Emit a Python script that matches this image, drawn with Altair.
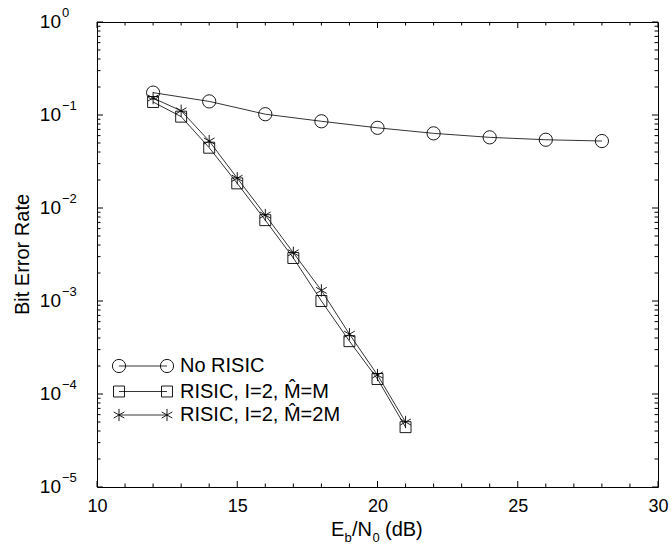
import altair as alt
import pandas as pd

# ---------------- data ----------------
x_no = [12, 14, 16, 18, 20, 22, 24, 26, 28]
ber_no = [0.174, 0.140, 0.102, 0.0856, 0.0728, 0.0635, 0.0575, 0.0542, 0.0525]

x_risic = [12, 13, 14, 15, 16, 17, 18, 19, 20, 21]
ber_m = [0.138, 0.096, 0.0445, 0.0184, 0.0074, 0.0029, 0.00100, 0.00037, 0.000145, 4.4e-5]
ber_2m = [0.152, 0.111, 0.0525, 0.0209, 0.0084, 0.0033, 0.0013, 0.00044, 0.00016, 5.0e-5]

series_labels = ["No RISIC", "RISIC, I=2, M\u0302=M", "RISIC, I=2, M\u0302=2M"]

x_major = [10, 15, 20, 25, 30]
x_minor = [v for v in range(10, 31) if v not in x_major]
y_major = [1, 0.1, 0.01, 0.001, 0.0001, 0.00001]
y_exp = ["0", "\u22121", "\u22122", "\u22123", "\u22124", "\u22125"]
y_minor = [m * 10.0 ** k for k in range(-5, 0) for m in range(2, 10)]

# ---------------- layout constants ----------------
W, H = 561, 465
FONT = "Liberation Sans"
STAR = "M0,-1L0,1M-0.87,-0.5L0.87,0.5M-0.87,0.5L0.87,-0.5"
shapes = ["circle", "square", STAR]
sizes = [175, 120, 150]

xs = alt.Scale(domain=[10, 30], nice=False, zero=False)
ys = alt.Scale(type="log", domain=[1e-5, 1], nice=False)
xaxis = alt.Axis(values=x_major, ticks=False, domain=False, grid=False, title=None,
                 labelFont=FONT, labelFontSize=18, labelColor="black", labelPadding=10,
                 labelFlush=False)

def X():
    return alt.X("x:Q", scale=xs, axis=xaxis)

def Y():
    return alt.Y("ber:Q", scale=ys, axis=None)

frames = [
    pd.DataFrame({"x": x_no, "ber": ber_no, "series": series_labels[0]}),
    pd.DataFrame({"x": x_risic, "ber": ber_m, "series": series_labels[1]}),
    pd.DataFrame({"x": x_risic, "ber": ber_2m, "series": series_labels[2]}),
]

layers = []
for i, f in enumerate(frames):
    layers.append(alt.Chart(f).mark_line(color="black", strokeWidth=0.8).encode(x=X(), y=Y()))
    layers.append(alt.Chart(f).mark_point(shape=shapes[i], size=sizes[i], filled=False,
                                          color="black", strokeWidth=0.9, opacity=1)
                  .encode(x=X(), y=Y()))

# ---- inward ticks on all four sides ----
xmaj = pd.DataFrame({"x": x_major})
xmin = pd.DataFrame({"x": x_minor})
ymaj = pd.DataFrame({"ber": y_major, "exp": y_exp})
ymin = pd.DataFrame({"ber": y_minor})
for df, L in [(xmaj, 6), (xmin, 3.5)]:
    layers.append(alt.Chart(df).mark_rule(color="black", strokeWidth=1)
                  .encode(x=X(), y=alt.value(H), y2=alt.value(H - L)))
    layers.append(alt.Chart(df).mark_rule(color="black", strokeWidth=1)
                  .encode(x=X(), y=alt.value(0), y2=alt.value(L)))
for df, L in [(ymaj, 6), (ymin, 3.5)]:
    layers.append(alt.Chart(df).mark_rule(color="black", strokeWidth=1)
                  .encode(y=Y(), x=alt.value(0), x2=alt.value(L)))
    layers.append(alt.Chart(df).mark_rule(color="black", strokeWidth=1)
                  .encode(y=Y(), x=alt.value(W), x2=alt.value(W - L)))

# ---- y tick labels 10^k ----
layers.append(alt.Chart(ymaj).mark_text(align="right", baseline="middle", font=FONT,
                                        fontSize=19, color="black")
              .encode(y=Y(), x=alt.value(-36), text=alt.value("10")))
layers.append(alt.Chart(ymaj).mark_text(align="left", baseline="middle", font=FONT,
                                        fontSize=13, color="black", dy=-9)
              .encode(y=Y(), x=alt.value(-35), text="exp:N"))

one = pd.DataFrame({"a": [0]})

# ---- y axis title ----
layers.append(alt.Chart(one).mark_text(angle=270, align="center", baseline="middle",
                                       font=FONT, fontSize=20, color="black")
              .encode(x=alt.value(-74), y=alt.value(H / 2), text=alt.value("Bit Error Rate")))

# ---- x axis title E_b/N_0 (dB) ----
pieces = [("E", 234, 513.5, 20), ("b", 247.5, 519.5, 13), ("/N", 255, 513.5, 20),
          ("0", 275.5, 519.5, 13), ("(dB)", 288, 513.5, 20)]
for txt, px, py, fs in pieces:
    layers.append(alt.Chart(one).mark_text(align="left", baseline="alphabetic", font=FONT,
                                           fontSize=fs, color="black")
                  .encode(x=alt.value(px), y=alt.value(py), text=alt.value(txt)))

# ---- legend ----
rows = [344, 369.5, 393]
for i, lab in enumerate(series_labels):
    yr = rows[i]
    layers.append(alt.Chart(one).mark_rule(color="black", strokeWidth=0.8)
                  .encode(x=alt.value(22), x2=alt.value(70), y=alt.value(yr)))
    for px in (22, 70):
        layers.append(alt.Chart(one).mark_point(shape=shapes[i], size=sizes[i], filled=False,
                                                color="black", strokeWidth=0.9, opacity=1)
                      .encode(x=alt.value(px), y=alt.value(yr)))
    layers.append(alt.Chart(one).mark_text(align="left", baseline="middle", font=FONT,
                                           fontSize=20, color="black")
                  .encode(x=alt.value(83), y=alt.value(yr), text=alt.value(lab)))

chart = alt.layer(*layers).properties(
    width=W, height=H,
    autosize=alt.AutoSizeParams(type="none"),
    padding={"left": 97, "top": 22, "right": 12, "bottom": 57},
    background="white",
).configure_view(stroke="black", strokeWidth=1)

chart.save("out.html", embed_options={"renderer": "svg", "actions": False})
